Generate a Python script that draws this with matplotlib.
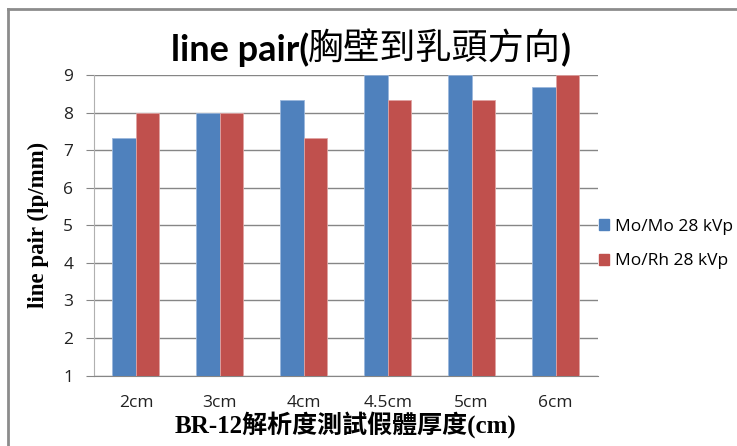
import matplotlib
matplotlib.use("Agg")
import matplotlib.pyplot as plt
import matplotlib.patches as mpatches
import numpy as np

categories = ["2cm", "3cm", "4cm", "4.5cm", "5cm", "6cm"]
mo_mo = [7.33, 8.0, 8.33, 9.0, 9.0, 8.67]
mo_rh = [8.0, 8.0, 7.33, 8.33, 8.33, 9.0]
series_names = ["Mo/Mo 28 kVp", "Mo/Rh 28 kVp"]
yticks = [1, 2, 3, 4, 5, 6, 7, 8, 9]

blue = "#4F81BD"
red = "#C0504D"
W, H = 737, 446

fig = plt.figure(figsize=(W / 100, H / 100), dpi=100)

# outer chart frame (cropped at right/bottom)
fig.add_artist(plt.Line2D([8 / W, 8 / W], [0, 1 - 9 / H], color="#8c8c8c", lw=2))
fig.add_artist(plt.Line2D([8 / W, 1], [1 - 9 / H, 1 - 9 / H], color="#8c8c8c", lw=2))

ax = fig.add_axes([94 / W, 70.5 / H, 503.5 / W, 300.5 / H])

x = np.arange(len(categories))
bw = 0.28
base = 1
ax.bar(x - bw / 2, np.array(mo_mo) - base, bw, bottom=base, color=blue,
       edgecolor="#9bb7dc", linewidth=0.6, zorder=3, label=series_names[0])
ax.bar(x + bw / 2, np.array(mo_rh) - base, bw, bottom=base, color=red,
       edgecolor="#e0a3a2", linewidth=0.6, zorder=3, label=series_names[1])

ax.set_xlim(-0.5, len(categories) - 0.5)
ax.set_ylim(1, 9)
ax.set_yticks(yticks)
ax.yaxis.grid(True, color="#868686", lw=1, zorder=0)
for s in ["top", "right"]:
    ax.spines[s].set_visible(False)
ax.spines["left"].set_color("#b0b0b0")
ax.spines["bottom"].set_color("#868686")

ax.set_xticks(x)
ax.set_xticklabels(categories, fontfamily="Open Sans", fontsize=12.5, color="#222222")
ax.tick_params(axis="x", length=0, pad=14)
ax.tick_params(axis="y", length=6, color="#868686", pad=9, labelsize=12.5,
               labelcolor="#222222")
for lbl in ax.get_yticklabels():
    lbl.set_fontfamily("Open Sans")

ax.set_ylabel("line pair (lp/mm)", fontfamily=["Liberation Serif"],
              fontweight="bold", fontsize=16.5, labelpad=10)
ax.set_xlabel("BR-12解析度測試假體厚度(cm)",
              fontfamily=["Liberation Serif", "Noto Sans CJK TC"],
              fontweight="bold", fontsize=18, labelpad=0)

# title: bold latin part, thin CJK part
ty = 1 - 50 / H
fig.text(309 / W, ty, "line pair(", fontfamily="Lato", fontsize=26,
         fontweight="bold", ha="right", va="center")
fig.text(308 / W, ty, "胸壁到乳頭方向", fontfamily="Noto Sans CJK TC",
         fontsize=26, fontweight="light", ha="left", va="center")
fig.text(561 / W, ty, ")", fontfamily="Lato", fontsize=26,
         fontweight="bold", ha="left", va="center")

handles = [mpatches.Patch(color=blue), mpatches.Patch(color=red)]
fig.legend(handles, series_names, loc="upper left",
           bbox_to_anchor=(592 / W, 1 - 212 / H), frameon=False,
           prop={"family": "Open Sans", "size": 12.5},
           handlelength=0.6, handleheight=0.6, handletextpad=0.3,
           labelspacing=1.05, borderaxespad=0)

fig.savefig("out.png", dpi=100)
